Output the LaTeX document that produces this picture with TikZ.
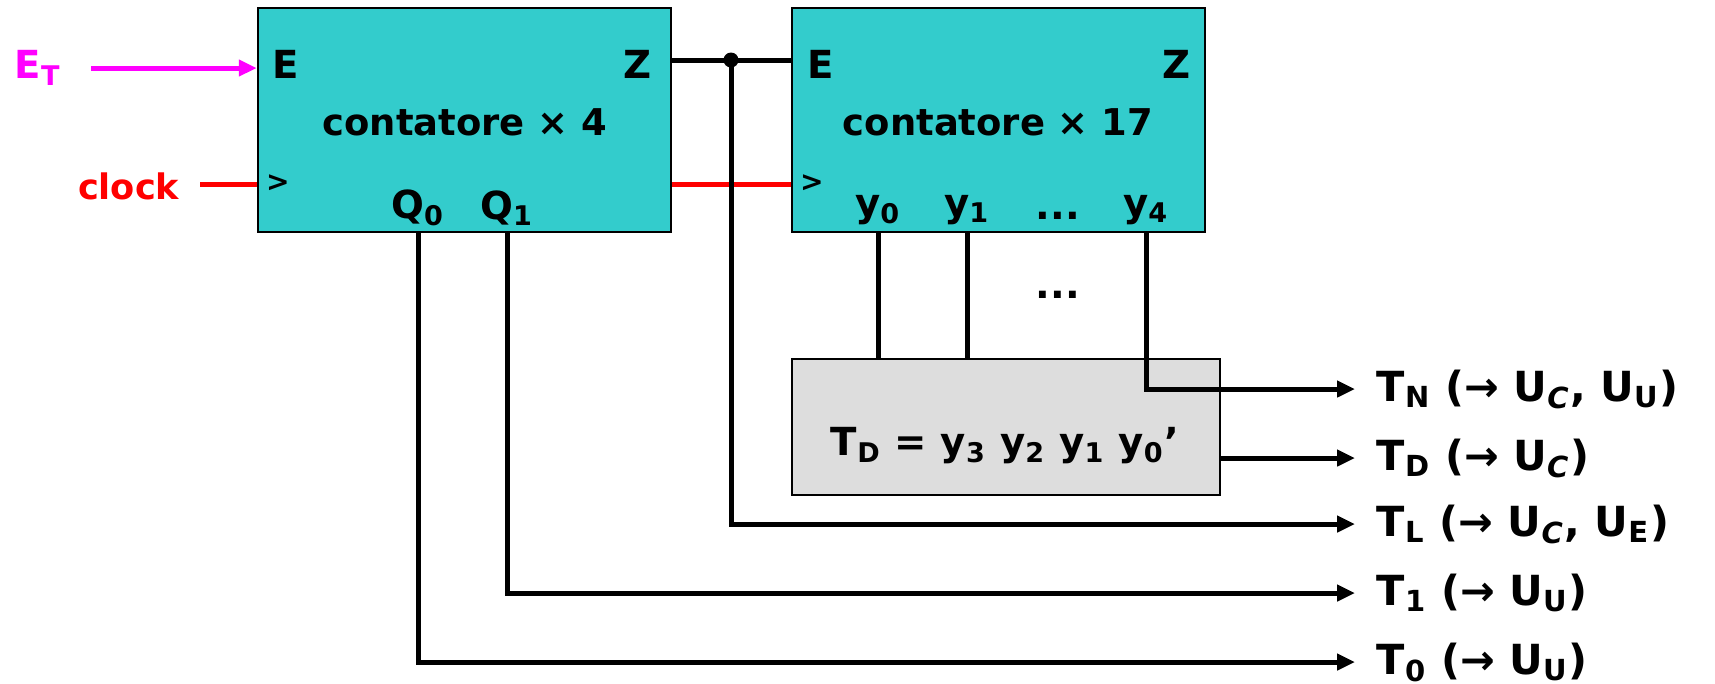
\documentclass[tikz,border=0pt]{standalone}
\usepackage{fontspec}
\setmainfont{DejaVu Sans}
\usetikzlibrary{positioning,arrows.meta,calc}
\definecolor{cntfill}{RGB}{51,204,204}
\definecolor{decfill}{RGB}{221,221,221}
\definecolor{enmag}{RGB}{255,0,255}
\definecolor{clkred}{RGB}{255,0,0}
\newcommand{\ix}[1]{\textsubscript{#1}}

\begin{document}
\begin{tikzpicture}[x=0.1mm, y=-0.1mm, font=\bfseries]
% 1 unit = 1 px of the 1715 x 683 sketch, y grows downwards
\tikzset{
  cntbox/.style={draw, line width=0.25mm, fill=cntfill, minimum width=41.3mm, minimum height=22.4mm, inner sep=0pt},
  port/.style={inner sep=0pt, font=\fontsize{11}{13}\selectfont\bfseries},
  wire/.style={line width=0.5mm},
  tip/.style={-{Triangle[length=1.8mm, width=1.6mm]}},
  outlbl/.style={anchor=west, inner xsep=2.1mm, inner ysep=0pt, font=\fontsize{11.8}{14}\selectfont\bfseries},
}
\useasboundingbox (0,0) rectangle (1715,683);

% the two counters and the decoder
\node[cntbox] (cnt4) at (464.5,120) {};
\node[cntbox] (cnt17) at (998.5,120) {};
\node[draw, line width=0.25mm, fill=decfill, minimum width=42.8mm, minimum height=13.6mm, inner sep=0pt] (dec) at (1006,427) {};
\node[font=\fontsize{10.5}{13}\selectfont\bfseries] (name4) at (465,122) {contatore × 4};
\node[font=\fontsize{10.5}{13}\selectfont\bfseries] (name17) at (998,122) {contatore × 17};
\node[font=\fontsize{11}{13}\selectfont\bfseries] (decf) at (1005,446) {T\ix{D} = y\ix{3} y\ix{2} y\ix{1} y\ix{0}'};

% ports
\node[port] (e4) at (286,64) {E};
\node[port] (z4) at (638,64) {Z};
\node[port, font=\fontsize{8}{10}\selectfont\bfseries] (ck4) at (278,183) {>};
\node[port] (q0) at (418,208) {Q\ix{0}};
\node[port] (q1) at (507,208) {Q\ix{1}};
\node[port] (e17) at (821,64) {E};
\node[port] (z17) at (1177,64) {Z};
\node[port, font=\fontsize{8}{10}\selectfont\bfseries] (ck17) at (812,183) {>};
\node[port] (y0) at (878,210) {y\ix{0}};
\node[port] (y1) at (967,210) {y\ix{1}};
\node[port] (ydots) at (1058,216) {...};
\node[port] (y4) at (1146,210) {y\ix{4}};
\node[port] (ydots2) at (1058,295) {...};

% inputs
\node[port, anchor=east, enmag] (et) at (62,68) {E\ix{T}};
\node[port, anchor=east, clkred, font=\fontsize{10}{12}\selectfont\bfseries] (clock) at (180,186) {clock};
\coordinate (clk) at (0,184);
\coordinate (jn) at (731,60);
\draw[wire, enmag, tip] ([xshift=2.9mm]et.east) -- (et.east -| cnt4.west);
\draw[wire, clkred] ([xshift=2mm]clock.east |- clk) -- (clk -| cnt4.west);
\draw[wire, clkred] (clk -| cnt4.east) -- (clk -| cnt17.west);
\draw[wire] (jn -| cnt4.east) -- (jn -| cnt17.west);
\fill (jn) circle (0.75mm);

% outputs
\foreach \n/\y/\l in {tn/389/T\ix{N} (→ U\ix{\itshape C}{,} U\ix{U}), td/458/T\ix{D} (→ U\ix{\itshape C}), tl/524/T\ix{L} (→ U\ix{\itshape C}{,} U\ix{E}), t1/593/T\ix{1} (→ U\ix{U}), t0/662/T\ix{0} (→ U\ix{U})}
  { \node[outlbl] (\n) at (1355,\y) {\l}; }
\draw[wire] (y0.south |- cnt17.south) -- (y0.south |- dec.north);
\draw[wire] (y1.south |- cnt17.south) -- (y1.south |- dec.north);
\draw[wire, tip] (y4.south |- cnt17.south) |- (tn.west);
\draw[wire, tip] (td -| dec.east) -- (td.west);
\draw[wire, tip] (jn) |- (tl.west);
\draw[wire, tip] (q1.south |- cnt4.south) |- (t1.west);
\draw[wire, tip] (q0.south |- cnt4.south) |- (t0.west);
\end{tikzpicture}
\end{document}
